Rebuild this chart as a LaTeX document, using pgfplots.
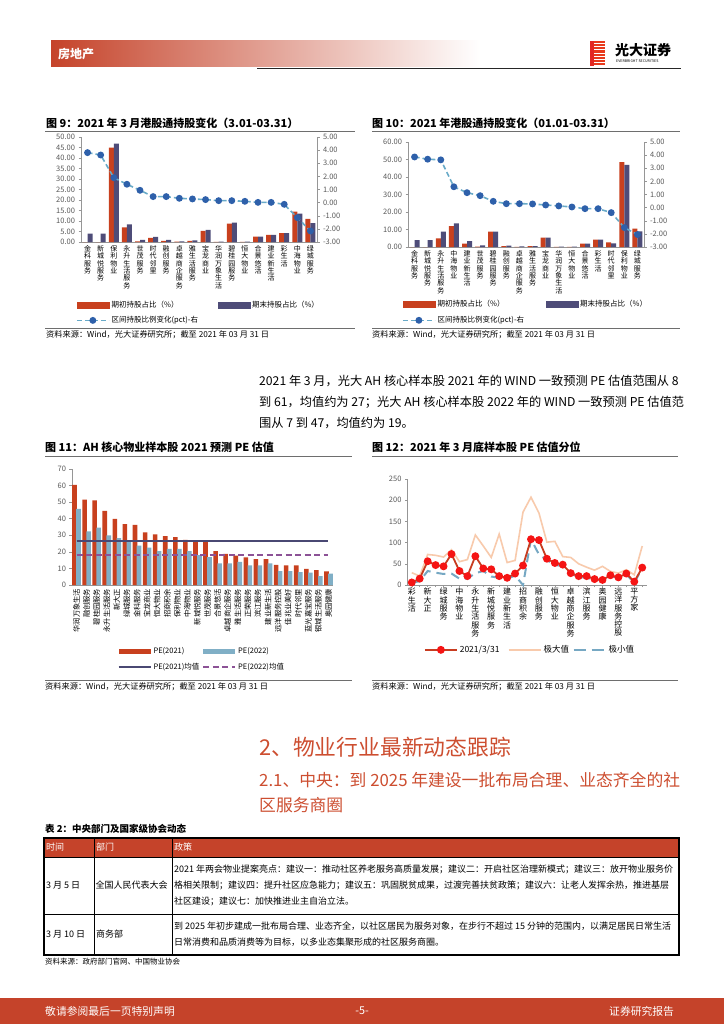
\documentclass[border=0pt]{standalone}
\usepackage{fontspec}
\setmainfont{Noto Sans CJK SC}
\usepackage{pgfplots}
\pgfplotsset{compat=1.18}

\definecolor{hdr}{RGB}{197,67,42}
\definecolor{logored}{RGB}{226,40,35}
\definecolor{cred}{RGB}{200,64,30}
\definecolor{cpur}{RGB}{78,76,120}
\definecolor{cdash}{RGB}{104,170,200}
\definecolor{cmark}{RGB}{46,96,170}
\definecolor{cblue}{RGB}{128,175,198}
\definecolor{cnavy}{RGB}{74,72,115}
\definecolor{cviol}{RGB}{140,82,150}
\definecolor{c12red}{RGB}{200,60,32}
\definecolor{c12mk}{RGB}{245,20,20}
\definecolor{corange}{RGB}{248,202,172}
\definecolor{cmin}{RGB}{118,168,195}
\definecolor{axg}{RGB}{150,150,150}
\definecolor{tkg}{RGB}{89,89,89}
\definecolor{headred}{RGB}{205,78,48}
\definecolor{rulec}{RGB}{110,110,110}

\newcommand{\fs}[2]{\fontsize{#1}{#2}\selectfont}
\newcommand{\tx}[4]{\node[anchor=west,inner sep=0pt,font=#3] at (#1,-#2) {#4};}

\pgfplotsset{
  base/.style={scale only axis, anchor=south west, clip=false,
    axis line style={draw=axg, line width=0.6pt},
    tick style={draw=axg, line width=0.5pt},
    tick align=outside, major tick length=2.5pt,
    ticklabel style={font=\fs{7.5}{8}, text=tkg},
    /pgf/number format/assume math mode=true,
    legend style={draw=none, fill=none, inner sep=0pt, outer sep=0pt, cells={anchor=west}, text=black}},
  two/.style={yticklabel style={/pgf/number format/.cd, fixed, fixed zerofill, precision=2, assume math mode=true}},
  barleg/.style={legend image code/.code={\fill[#1] (0pt,-3pt) rectangle (32pt,3pt);}},
  barlegs/.style={legend image code/.code={\fill[#1] (0pt,-2.6pt) rectangle (32pt,2.6pt);}},
  lineleg/.style={legend image code/.code={\draw[mark repeat=2,mark phase=2,##1] plot coordinates {(0pt,0pt) (16pt,0pt) (32pt,0pt)};}},
}

\begin{document}
\begin{tikzpicture}[x=1pt,y=1pt]
\useasboundingbox (0,0) rectangle (724,-1024);
\fill[white] (0,0) rectangle (724,-1024);

% ---------- header ----------
\shade[left color=hdr, right color=white] (51,-41) rectangle (480,-67);
\tx{58}{54}{\bfseries\fs{12}{12}\color{white}}{房地产}
\draw[line width=1.2pt, black!85] (257,-68.5) -- (681,-68.5);
\fill[logored] (590,-41) rectangle (594,-66);
\foreach \i in {0,...,7}{\fill[logored!80!orange] (594,{-41-3.15*\i}) rectangle (605,{-43.2-3.15*\i});}
\tx{615}{50}{\bfseries\fs{14}{14}}{光大证券}
\tx{616}{61.5}{\fs{3.6}{4}}{EVERBRIGHT SECURITIES}

% ---------- figure 9 / 10 titles ----------
\tx{46}{123}{\bfseries\fs{11}{11}}{图 9：2021 年 3 月港股通持股变化（3.01-03.31）}
\draw[rulec, line width=1pt] (45,-131.5) -- (355,-131.5);
\tx{372}{123}{\bfseries\fs{11}{11}}{图 10：2021 年港股通持股变化（01.01-03.31）}
\draw[rulec, line width=1pt] (372,-131.5) -- (680,-131.5);

% ---------- chart 9 ----------
\begin{axis}[base, two, at={(81pt,-242pt)}, width=236pt, height=105pt,
  xmin=-0.5, xmax=17.5, ymin=0, ymax=50, ytick={0,5,...,50},
  axis y line*=left, axis x line*=bottom,
  xtick={0,...,17}, xtick style={draw=none},
  xticklabels={{金\\科\\服\\务},{新\\城\\悦\\服\\务},{保\\利\\物\\业},{永\\升\\生\\活\\服\\务},{世\\茂\\服\\务},{时\\代\\邻\\里},{融\\创\\服\\务},{卓\\越\\商\\企\\服\\务},{雅\\生\\活\\服\\务},{宝\\龙\\商\\业},{华\\润\\万\\象\\生\\活},{碧\\桂\\园\\服\\务},{恒\\大\\物\\业},{合\\景\\悠\\活},{建\\业\\新\\生\\活},{彩\\生\\活},{中\\海\\物\\业},{绿\\城\\服\\务}},
  xticklabel style={align=center, font=\fs{7}{7.3}, text=black, inner sep=1pt}]
\addplot[ybar, bar width=5pt, bar shift=-2.5pt, fill=cred, draw=none] coordinates {(0,0) (1,0) (2,45) (3,7) (4,0.3) (5,2) (6,0.5) (7,0.2) (8,0.5) (9,5.3) (10,0.1) (11,8.8) (12,0.1) (13,2.6) (14,3.4) (15,4.2) (16,14.5) (17,11)};
\addplot[ybar, bar width=5pt, bar shift=2.5pt, fill=cpur, draw=none] coordinates {(0,4) (1,4) (2,46.8) (3,8.4) (4,1) (5,2.5) (6,1) (7,0.3) (8,0.8) (9,5.8) (10,0.2) (11,9.2) (12,0.2) (13,2.6) (14,3.4) (15,4.2) (16,13.5) (17,9)};
\end{axis}
\begin{axis}[base, two, at={(81pt,-242pt)}, width=236pt, height=105pt,
  xmin=-0.5, xmax=17.5, ymin=-3, ymax=5, ytick={-3,...,5},
  axis y line*=right, axis x line=none,
  legend columns=2,
  legend style={at={(axis description cs:-0.021,-0.548)}, anchor=north west, font=\fs{7.5}{8}, /tikz/row sep=3pt}]
\addlegendimage{barleg=cred}
\addlegendentry{\makebox[104pt][l]{期初持股占比（\%）}}
\addlegendimage{barleg=cpur}
\addlegendentry{期末持股占比（\%）}
\addplot[lineleg, cdash, line width=1.6pt, dash pattern=on 5pt off 3pt, mark=*, mark size=2.6pt, mark options={solid, fill=cmark, draw=cmark}] coordinates {(0,3.81) (1,3.63) (2,1.90) (3,1.40) (4,0.94) (5,0.46) (6,0.46) (7,0.33) (8,0.28) (9,0.23) (10,0.15) (11,0.15) (12,0.10) (13,0.02) (14,0.02) (15,-0.13) (16,-1.14) (17,-2.16)};
\addlegendentry{区间持股比例变化(pct)-右}
\end{axis}

% ---------- chart 10 ----------
\begin{axis}[base, two, at={(408pt,-247pt)}, width=236pt, height=105pt,
  xmin=-0.5, xmax=17.5, ymin=0, ymax=60, ytick={0,10,...,60},
  axis y line*=left, axis x line*=bottom,
  xtick={0,...,17}, xtick style={draw=none},
  xticklabels={{金\\科\\服\\务},{新\\城\\悦\\服\\务},{永\\升\\生\\活\\服\\务},{中\\海\\物\\业},{建\\业\\新\\生\\活},{世\\茂\\服\\务},{碧\\桂\\园\\服\\务},{融\\创\\服\\务},{卓\\越\\商\\企\\服\\务},{雅\\生\\活\\服\\务},{宝\\龙\\商\\业},{华\\润\\万\\象\\生\\活},{恒\\大\\物\\业},{合\\景\\悠\\活},{彩\\生\\活},{时\\代\\邻\\里},{保\\利\\物\\业},{绿\\城\\服\\务}},
  xticklabel style={align=center, font=\fs{7}{7.3}, text=black, inner sep=1pt}]
\addplot[ybar, bar width=5pt, bar shift=-2.5pt, fill=cred, draw=none] coordinates {(0,0) (1,0) (2,5) (3,12) (4,2) (5,0.2) (6,8.8) (7,0.5) (8,0.1) (9,0.5) (10,5.3) (11,0.1) (12,0.1) (13,2) (14,4.2) (15,2.6) (16,48.5) (17,10.5)};
\addplot[ybar, bar width=5pt, bar shift=2.5pt, fill=cpur, draw=none] coordinates {(0,4) (1,4) (2,8.8) (3,13.5) (4,3.3) (5,1) (6,8.8) (7,0.8) (8,0.3) (9,0.5) (10,5.3) (11,0.2) (12,0.2) (13,2) (14,4.2) (15,2.1) (16,47) (17,9)};
\end{axis}
\begin{axis}[base, two, at={(408pt,-247pt)}, width=236pt, height=105pt,
  xmin=-0.5, xmax=17.5, ymin=-3, ymax=5, ytick={-3,...,5},
  axis y line*=right, axis x line=none,
  legend columns=2,
  legend style={at={(axis description cs:-0.025,-0.49)}, anchor=north west, font=\fs{7.5}{8}, /tikz/row sep=4pt}]
\addlegendimage{barleg=cred}
\addlegendentry{\makebox[106pt][l]{期初持股占比（\%）}}
\addlegendimage{barleg=cpur}
\addlegendentry{期末持股占比（\%）}
\addplot[lineleg, cdash, line width=1.6pt, dash pattern=on 5pt off 3pt, mark=*, mark size=2.6pt, mark options={solid, fill=cmark, draw=cmark}] coordinates {(0,3.86) (1,3.69) (2,3.64) (3,1.59) (4,1.14) (5,0.91) (6,0.48) (7,0.30) (8,0.30) (9,0.28) (10,0.20) (11,0.13) (12,0.05) (13,-0.08) (14,-0.08) (15,-0.38) (16,-1.52) (17,-2.05)};
\addlegendentry{区间持股比例变化(pct)-右}
\end{axis}

% ---------- sources row 1 ----------
\draw[rulec, line width=1pt] (45,-328) -- (355,-328);
\tx{46}{334.5}{\fs{8.2}{9}}{资料来源：Wind，光大证券研究所；截至 2021 年 03 月 31 日}
\draw[rulec, line width=1pt] (372,-328) -- (680,-328);
\tx{372}{334.5}{\fs{8.2}{9}}{资料来源：Wind，光大证券研究所；截至 2021 年 03 月 31 日}

% ---------- body text ----------
\tx{259}{381}{\fs{12.2}{14}}{2021 年 3 月，光大 AH 核心样本股 2021 年的 WIND 一致预测 PE 估值范围从 8}
\tx{259}{402}{\fs{12.2}{14}}{到 61，均值约为 27；光大 AH 核心样本股 2022 年的 WIND 一致预测 PE 估值范}
\tx{259}{423}{\fs{12.2}{14}}{围从 7 到 47，均值约为 19。}

% ---------- figure 11 / 12 titles ----------
\tx{45}{447}{\bfseries\fs{11}{11}}{图 11：AH 核心物业样本股 2021 预测 PE 估值}
\draw[rulec, line width=1pt] (45,-456) -- (352,-456);
\tx{372}{447}{\bfseries\fs{11}{11}}{图 12：2021 年 3 月底样本股 PE 估值分位}
\draw[rulec, line width=1pt] (372,-456) -- (678,-456);

% ---------- chart 11 ----------
\begin{axis}[base, at={(72pt,-585pt)}, width=261pt, height=116pt,
  xmin=-0.45, xmax=25.45, ymin=0, ymax=70, ytick={0,10,...,70},
  axis y line*=left, axis x line*=bottom,
  xtick={0,...,25}, xtick style={draw=none},
  xticklabels={华润万象生活,融创服务,碧桂园服务,永升生活服务,新大正,绿城服务,金科服务,宝龙商业,恒大物业,招商积余,保利物业,中海物业,新城悦服务,世茂服务,合景悠活,卓越商企服务,雅生活服务,正荣服务,滨江服务,建业新生活,远洋服务控股,佳兆业美好,时代邻里,蓝光嘉宝服务,银城生活服务,奥园健康},
  xticklabel style={rotate=90, anchor=east, font=\fs{7.3}{8}, text=black, inner sep=1pt},
  legend columns=2,
  legend style={at={(axis description cs:0.176,-0.522)}, anchor=north west, font=\fs{7.5}{8}, /tikz/row sep=4pt}]
\addplot[ybar, bar width=4.6pt, bar shift=-2pt, fill=cred, draw=none, barlegs=cred] coordinates {(0,60.5) (1,51.5) (2,51.1) (3,44.7) (4,39.9) (5,36.7) (6,36.3) (7,31.7) (8,30.5) (9,29.5) (10,28.9) (11,27.3) (12,26.3) (13,26) (14,20.4) (15,18.8) (16,17.8) (17,16.6) (18,15.6) (19,15.6) (20,12.2) (21,11.8) (22,11.8) (23,9.8) (24,9.0) (25,8.2)};
\addlegendentry{\makebox[47pt][l]{PE(2021)}}
\addplot[ybar, bar width=4.6pt, bar shift=2pt, fill=cblue, draw=none, barlegs=cblue] coordinates {(0,46) (1,32.3) (2,34.7) (3,29.9) (4,28.3) (5,27.1) (6,23.8) (7,22.6) (8,20.4) (9,21.8) (10,21.8) (11,20.4) (12,18) (13,16.8) (14,13) (15,13) (16,14) (17,11.8) (18,11.8) (19,13) (20,8.4) (21,8.4) (22,7.8) (23,7.4) (24,5.4) (25,6.8)};
\addlegendentry{PE(2022)}
\addplot[lineleg, cnavy, line width=1.6pt] coordinates {(0,26.5) (25,26.5)};
\addlegendentry{\makebox[47pt][l]{PE(2021)均值}}
\addplot[lineleg, cviol, line width=1.6pt, dash pattern=on 6pt off 3.5pt] coordinates {(0,18.2) (25,18.2)};
\addlegendentry{PE(2022)均值}
\end{axis}

% ---------- chart 12 ----------
\begin{axis}[base, at={(407pt,-585pt)}, width=240pt, height=106pt,
  xmin=-0.6, xmax=29.6, ymin=0, ymax=250, ytick={0,50,...,250},
  axis y line*=left, axis x line*=bottom, major tick length=2pt,
  xtick={0,...,29},
  xticklabels={{彩\\生\\活},{},{新\\大\\正},{},{绿\\城\\服\\务},{},{中\\海\\物\\业},{},{永\\升\\生\\活\\服\\务},{},{新\\城\\悦\\服\\务},{},{建\\业\\新\\生\\活},{},{招\\商\\积\\余},{},{融\\创\\服\\务},{},{恒\\大\\物\\业},{},{卓\\越\\商\\企\\服\\务},{},{滨\\江\\服\\务},{},{奥\\园\\健\\康},{},{远\\洋\\服\\务\\控\\股},{},{平\\方\\家},{}},
  xticklabel style={align=center, font=\fs{8}{8.3}, text=black, inner sep=1pt},
  legend columns=3,
  legend style={at={(axis description cs:0.0708,-0.552)}, anchor=north west, font=\fs{8.5}{9}}]
\addlegendimage{lineleg, c12red, line width=1.8pt, mark=*, mark size=3pt, mark options={fill=c12mk, draw=c12mk}}
\addlegendentry{\makebox[46pt][l]{2021/3/31}}
\addlegendimage{lineleg, corange, line width=1.8pt}
\addlegendentry{\makebox[27pt][l]{极大值}}
\addlegendimage{lineleg, cmin, line width=2pt, dash pattern=on 12pt off 6pt}
\addlegendentry{极小值}
\addplot[forget plot, corange, line width=1.6pt] coordinates {(0,29) (1,21) (2,72) (3,70) (4,66) (5,83) (6,55) (7,60) (8,118) (9,92) (10,65) (11,120) (12,53) (13,58) (14,172) (15,207) (16,170) (17,101) (18,103) (19,67) (20,65) (21,50) (22,42) (23,35) (24,44) (25,32) (26,28) (27,36) (28,24) (29,92)};
\addplot[forget plot, cmin, line width=2pt, dash pattern=on 9pt off 6pt] coordinates {(0,5) (1,9) (2,33) (3,29) (4,26) (5,27) (6,15) (7,15) (8,28) (9,33) (10,20) (11,17) (12,15) (13,22) (14,0) (15,108) (16,72) (17,59) (18,47) (19,45) (20,27) (21,19) (22,17) (23,13) (24,11) (25,21) (26,17) (27,25) (28,5) (29,40)};
\addplot[forget plot, c12red, line width=1.8pt, mark=*, mark size=3pt, mark options={fill=c12mk, draw=c12mk}] coordinates {(0,6) (1,15) (2,56) (3,47) (4,44) (5,73) (6,33) (7,21) (8,68) (9,39) (10,37) (11,21) (12,17) (13,27) (14,46) (15,108) (16,106) (17,62) (18,52) (19,48) (20,28) (21,21) (22,21) (23,14) (24,12) (25,23) (26,18) (27,27) (28,8) (29,41)};
\end{axis}

% ---------- sources row 2 ----------
\draw[rulec, line width=1pt] (45,-680) -- (352,-680);
\tx{45}{686.5}{\fs{8.2}{9}}{资料来源：Wind，光大证券研究所；截至 2021 年 03 月 31 日}
\draw[rulec, line width=1pt] (372,-680) -- (678,-680);
\tx{372}{686.5}{\fs{8.2}{9}}{资料来源：Wind，光大证券研究所；截至 2021 年 03 月 31 日}

% ---------- headings ----------
\tx{259}{747}{\fs{21.8}{22}\color{headred}}{2、物业行业最新动态跟踪}
\tx{259}{780}{\fs{16.8}{17}\color{headred}}{2.1、中央：到 2025 年建设一批布局合理、业态齐全的社}
\tx{259}{805}{\fs{16.8}{17}\color{headred}}{区服务商圈}

% ---------- table ----------
\tx{45}{829}{\bfseries\fs{9.5}{10}}{表 2：中央部门及国家级协会动态}
\fill[hdr] (44,-838) rectangle (679,-857);
\draw[line width=0.8pt] (44,-857) -- (679,-857) (44,-914) -- (679,-914) (94,-838) -- (94,-955) (172,-838) -- (172,-955);
\draw[line width=1.3pt] (44,-838) rectangle (679,-955);
\tx{46}{847.5}{\fs{9}{9}\color{white}}{时间}
\tx{96}{847.5}{\fs{9}{9}\color{white}}{部门}
\tx{174}{847.5}{\fs{9}{9}\color{white}}{政策}
\tx{46}{885.5}{\fs{9}{9}}{3 月 5 日}
\tx{95.5}{885.5}{\fs{9}{9}}{全国人民代表大会}
\tx{174}{869.5}{\fs{9}{9}}{2021 年两会物业提案亮点：建议一：推动社区养老服务高质量发展；建议二：开启社区治理新模式；建议三：放开物业服务价}
\tx{174}{885.5}{\fs{9}{9}}{格相关限制；建议四：提升社区应急能力；建议五：巩固脱贫成果，过渡完善扶贫政策；建议六：让老人发挥余热，推进基层}
\tx{174}{901.5}{\fs{9}{9}}{社区建设；建议七：加快推进业主自治立法。}
\tx{46}{934.5}{\fs{9}{9}}{3 月 10 日}
\tx{96}{934.5}{\fs{9}{9}}{商务部}
\tx{174}{926.5}{\fs{9}{9}}{到 2025 年初步建成一批布局合理、业态齐全，以社区居民为服务对象，在步行不超过 15 分钟的范围内，以满足居民日常生活}
\tx{174}{942.5}{\fs{9}{9}}{日常消费和品质消费等为目标，以多业态集聚形成的社区服务商圈。}
\tx{45}{962}{\fs{7.5}{8}}{资料来源：政府部门官网、中国物业协会}

% ---------- footer ----------
\fill[hdr] (0,-998) rectangle (724,-1024);
\tx{45}{1011}{\fs{10.8}{11}\color{white}}{敬请参阅最后一页特别声明}
\node[inner sep=0pt, font=\fs{10.8}{11}, text=white] at (362,-1011) {-5-};
\tx{609}{1011}{\fs{10.8}{11}\color{white}}{证券研究报告}
\end{tikzpicture}
\end{document}
